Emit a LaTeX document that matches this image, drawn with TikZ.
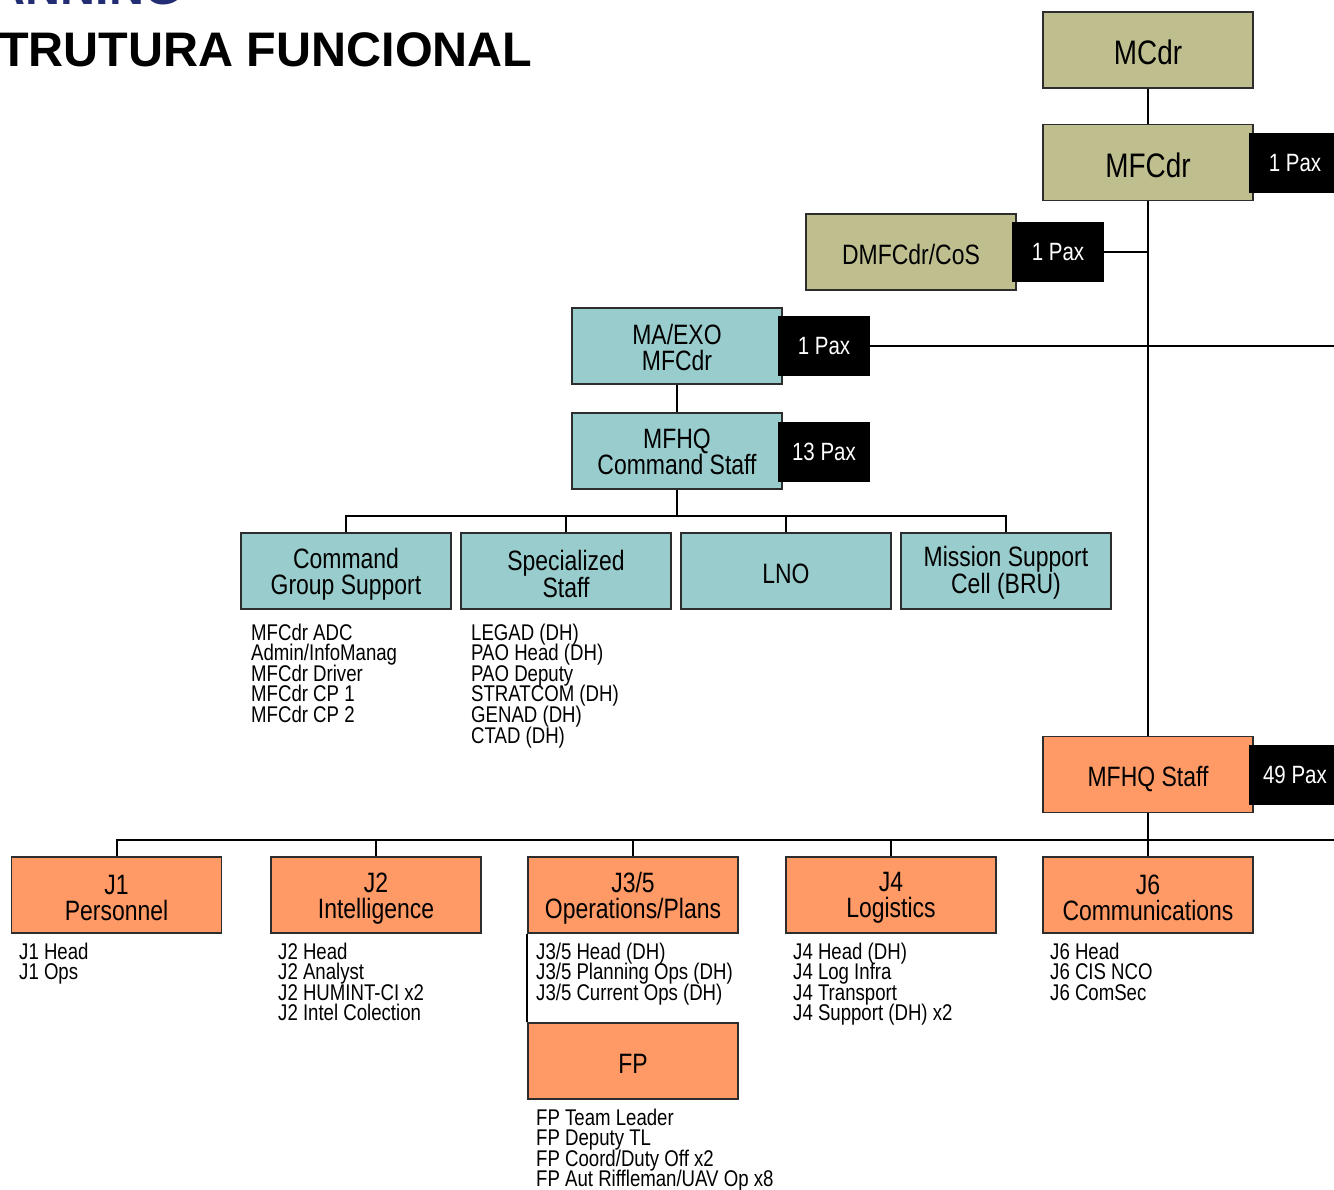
\documentclass[tikz,border=0pt]{standalone}
\usepackage{fontspec}
\setmainfont{Liberation Sans}[FakeStretch=0.82]
\newfontfamily\titlefont{Liberation Sans}
\definecolor{olivebox}{RGB}{191,190,143}
\definecolor{tealbox}{RGB}{153,204,204}
\definecolor{orangebox}{RGB}{255,153,102}
\definecolor{navytitle}{RGB}{35,45,115}
\definecolor{boxline}{RGB}{45,45,45}
\newcommand\stafflist[4]{%
  \foreach \t [count=\i] in {#4} {\node[item] (#1\i) at (#2, #3+20.6*\i-20.6) {\t};}}
\begin{document}
\begin{tikzpicture}[x=1pt,y=-1pt,
  box/.style={draw=boxline, line width=1.6pt, minimum width=210pt, minimum height=76pt,
    inner sep=0pt},
  boxtext/.style={anchor=center, inner sep=0pt, yshift=-2.8pt, align=center,
    font=\fontsize{28}{26}\selectfont},
  bigtext/.style={boxtext, font=\fontsize{34}{30}\selectfont},
  olive/.style={fill=olivebox},
  teal/.style={fill=tealbox},
  orng/.style={fill=orangebox},
  pax/.style={fill=black, text=white, minimum width=92pt, minimum height=60pt,
    inner sep=0pt, font=\fontsize{25}{25}\selectfont},
  item/.style={anchor=base west, inner sep=0pt, font=\fontsize{22.7}{20.6}\selectfont},
  link/.style={line width=2pt, black},
  headline/.style={inner sep=0pt, font=\titlefont\bfseries\fontsize{48.5}{48}\selectfont}]
\useasboundingbox (0,0) rectangle (1334,1190);
\clip (0,0) rectangle (1334,1190);
\coordinate (redge) at (1334,0);
\coordinate (busA) at (0,516);
\coordinate (busB) at (0,840);

% titles
\node[headline, anchor=base east, text=navytitle] (toptitle) at (182,5) {PLANNING};
\node[headline, anchor=base west] (title) at (-1,67) {TRUTURA FUNCIONAL};

% command chain
\node[box, olive, label={[bigtext]center:MCdr}] (mcdr) at (1148,50) {};
\node[box, olive, label={[bigtext]center:MFCdr}] (mfcdr) at (1148,162.5) {};
\node[pax] (mfcdrpax) at (1295,163) {1 Pax};
\node[box, olive, label={[boxtext]center:DMFCdr/CoS}] (dmf) at (911,252) {};
\node[pax] (dmfpax) at (1058,252.5) {1 Pax};
\node[box, teal, label={[boxtext, yshift=1.5pt]center:MA/EXO\\MFCdr}] (maexo) at (677,346) {};
\node[pax] (maexopax) at (824,346.5) {1 Pax};
\node[box, teal, label={[boxtext, yshift=1.5pt]center:MFHQ\\Command Staff}] (cs) at (677,451) {};
\node[pax] (cspax) at (824,452) {13 Pax};

% command staff row
\node[box, teal, label={[boxtext]center:Command\\Group Support}] (cgs) at (346,571) {};
\node[box, teal, label={[boxtext]center:Specialized\\Staff}] (ss) at (566,571) {};
\node[box, teal, label={[boxtext]center:LNO}] (lno) at (786,571) {};
\node[box, teal, label={[boxtext, yshift=1pt]center:Mission Support\\Cell (BRU)}] (msc) at (1006,571) {};

% staff
\node[box, orng, label={[boxtext, yshift=-1.5pt]center:MFHQ Staff}] (staff) at (1148,774.5) {};
\node[pax] (staffpax) at (1295,775) {49 Pax};

% J row
\node[box, orng, label={[boxtext]center:J1\\Personnel}] (j1) at (116.5,895) {};
\node[box, orng, label={[boxtext, yshift=-1pt]center:J2\\Intelligence}] (j2) at (376,895) {};
\node[box, orng, label={[boxtext]center:J3/5\\Operations/Plans}] (j35) at (633,895) {};
\node[box, orng, label={[boxtext]center:J4\\Logistics}] (j4) at (891,895) {};
\node[box, orng, label={[boxtext]center:J6\\Communications}] (j6) at (1148,895) {};
\node[box, orng, label={[boxtext]center:FP}] (fp) at (633,1061) {};

% connectors
\draw[link] (mcdr.south) -- (mfcdr.north);
\draw[link] (mfcdr.south) -- (staff.north);
\draw[link] (dmfpax.east) -- (dmfpax.east -| mfcdr.south);
\draw[link] (maexopax.east) -- (maexopax.east -| redge);
\draw[link] (maexo.south) -- (cs.north);
\draw[link] (cgs.north) |- (busA -| msc.north) -- (msc.north);
\draw[link] (ss.north) -- (ss.north |- busA);
\draw[link] (lno.north) -- (lno.north |- busA);
\draw[link] (cs.south) -- (cs.south |- busA);
\draw[link] (staff.south) -- (j6.north);
\draw[link] (j1.north) |- (busB -| redge);
\draw[link] (j2.north) -- (j2.north |- busB);
\draw[link] (j35.north) -- (j35.north |- busB);
\draw[link] (j4.north) -- (j4.north |- busB);
\draw[link] (j35.south west) -- (fp.north west);

% lists
\stafflist{cgsl}{251}{640}{MFCdr ADC, Admin/InfoManag, MFCdr Driver, MFCdr CP 1, MFCdr CP 2}
\stafflist{ssl}{471}{640}{LEGAD (DH), PAO Head (DH), PAO Deputy, STRATCOM (DH), GENAD (DH), CTAD (DH)}
\stafflist{jal}{19}{959}{J1 Head, J1 Ops}
\stafflist{jbl}{278}{959}{J2 Head, J2 Analyst, J2 HUMINT-CI x2, J2 Intel Colection}
\stafflist{jcl}{536}{959}{J3/5 Head (DH), J3/5 Planning Ops (DH), J3/5 Current Ops (DH)}
\stafflist{jdl}{793}{959}{J4 Head (DH), J4 Log Infra, J4 Transport, J4 Support (DH) x2}
\stafflist{jfl}{1050}{959}{J6 Head, J6 CIS NCO, J6 ComSec}
\stafflist{fpl}{536}{1125}{FP Team Leader, FP Deputy TL, FP Coord/Duty Off x2, FP Aut Riffleman/UAV Op x8}
\end{tikzpicture}
\end{document}
